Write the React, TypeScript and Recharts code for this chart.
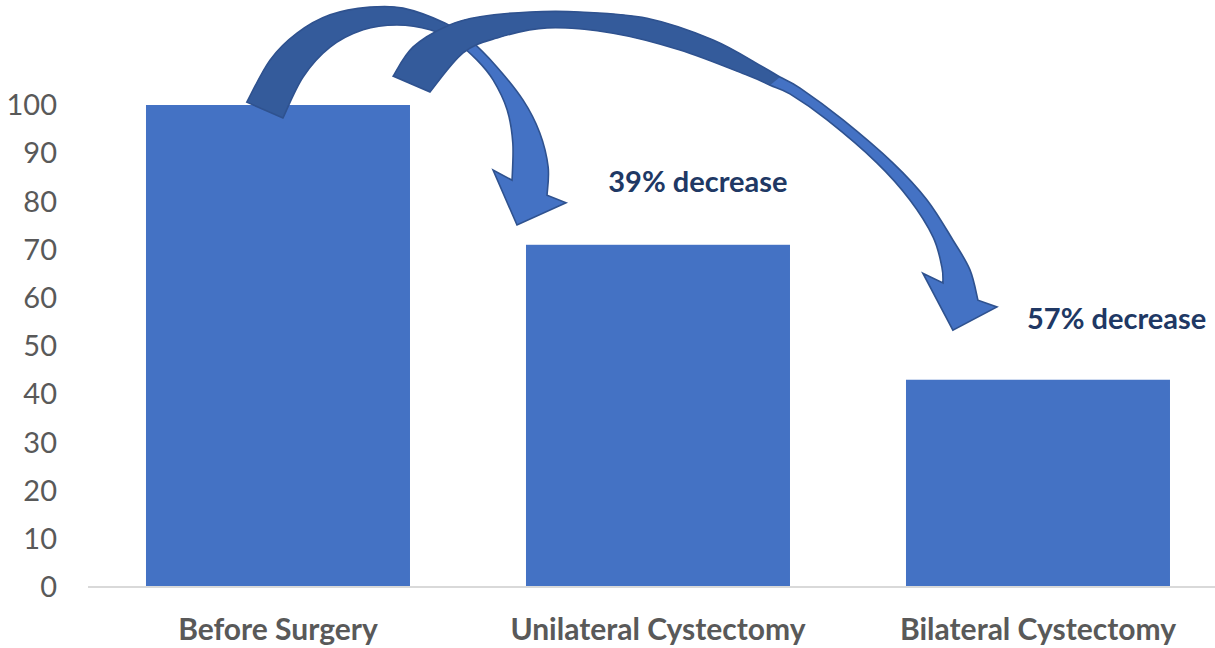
import React from 'react';
import { BarChart, Bar, XAxis, YAxis } from 'recharts';

// ---------- data ----------
const categories = ['Before Surgery', 'Unilateral Cystectomy', 'Bilateral Cystectomy'];
const values = [100, 71, 43];
const yTicks = [0, 10, 20, 30, 40, 50, 60, 70, 80, 90, 100];
const annotations = ['', '39% decrease', '57% decrease'];
// annotation anchors in data space: [category position, value]
const annotationAnchors: [number, number][] = [[0, 0], [1.105, 82], [2.207, 53.5]];

// curved arrows, in data space: [category position, value]
const arrow1Outer: [number, number][] = [
  [-0.082, 100.6], [-0.021, 109.3], [0.05, 114.9], [0.137, 118.7], [0.242, 120.3], [0.329, 120.1],
  [0.439, 117.0], [0.505, 113.5], [0.576, 107.9], [0.645, 101.0], [0.689, 94.2], [0.711, 87.1], [0.708, 81.3],
];
const arrow1Head: [number, number][] = [[0.758, 79.7], [0.629, 75.1], [0.566, 86.5]];
const arrow1Inner: [number, number][] = [
  [0.616, 84.4], [0.618, 92.1], [0.603, 99.0], [0.566, 105.2], [0.524, 109.3], [0.471, 112.9],
  [0.4, 115.6], [0.313, 116.6], [0.224, 115.6], [0.137, 112.0], [0.066, 105.8], [0.013, 97.3],
];
const arrow2Outer: [number, number][] = [
  [0.303, 106.0], [0.355, 112.0], [0.445, 116.4], [0.532, 118.3], [0.663, 119.3], [0.795, 119.3],
  [0.971, 118.0], [1.145, 113.5], [1.276, 107.9], [1.321, 105.8], [1.374, 103.5], [1.487, 96.9],
  [1.618, 88.0], [1.708, 80.3], [1.776, 72.0], [1.821, 65.8], [1.842, 59.5],
];
const arrow2Head: [number, number][] = [[1.892, 58.1], [1.776, 53.3], [1.697, 65.1]];
const arrow2Inner: [number, number][] = [
  [1.75, 63.1], [1.747, 66.4], [1.724, 72.6], [1.663, 80.3], [1.576, 88.0], [1.445, 96.9],
  [1.347, 102.3], [1.295, 104.1], [1.234, 106.2], [1.058, 111.4], [0.882, 114.9], [0.708, 116.0],
  [0.576, 113.9], [0.487, 110.8], [0.4, 102.7],
];

const arrows = [
  { outer: arrow1Outer, head: arrow1Head, inner: arrow1Inner, splitOuter: 6, splitInner: 5 },
  { outer: arrow2Outer, head: arrow2Head, inner: arrow2Inner, splitOuter: 9, splitInner: 7 },
];

const data = categories.map((name, i) => ({ name, value: values[i] }));

const BAR_COLOR = '#4472C4';
const ARROW_DARK = '#345B9B';
const ARROW_STROKE = '#2F528F';
const TEXT_NAVY = '#203864';
const GAP = 0.1526;

const geom: { c0: number } = { c0: NaN };

type Pt = [number, number];

function segs(p: Pt[], a: number, b: number): string {
  let d = '';
  for (let i = a; i < b; i++) {
    const p0 = p[Math.max(i - 1, 0)];
    const p1 = p[i];
    const p2 = p[i + 1];
    const p3 = p[Math.min(i + 2, p.length - 1)];
    const c1x = p1[0] + (p2[0] - p0[0]) / 6;
    const c1y = p1[1] + (p2[1] - p0[1]) / 6;
    const c2x = p2[0] - (p3[0] - p1[0]) / 6;
    const c2y = p2[1] - (p3[1] - p1[1]) / 6;
    d += ` C ${c1x} ${c1y} ${c2x} ${c2y} ${p2[0]} ${p2[1]}`;
  }
  return d;
}

const BarShape = (props: any) => {
  const { x, y, width, height, index } = props;
  const rect = <rect x={x} y={y} width={width} height={height} fill={BAR_COLOR} />;
  if (index === 0) geom.c0 = x + width / 2;
  if (index !== categories.length - 1) return rect;

  const cLast = x + width / 2;
  const last = categories.length - 1;
  const step = Number.isFinite(geom.c0) ? (cLast - geom.c0) / last : width / (1 - 2 * GAP);
  const baseline = y + height;
  const ppu = height / values[last];
  const P = (q: Pt): Pt => [cLast + (q[0] - last) * step, baseline - q[1] * ppu];

  return (
    <g>
      {rect}
      {arrows.map((a, k) => {
        const outer = a.outer.map(P);
        const inner = a.inner.map(P);
        const head = a.head.map(P);
        const full =
          `M ${outer[0][0]} ${outer[0][1]}` +
          segs(outer, 0, outer.length - 1) +
          head.map((h) => ` L ${h[0]} ${h[1]}`).join('') +
          ` L ${inner[0][0]} ${inner[0][1]}` +
          segs(inner, 0, inner.length - 1) +
          ' Z';
        const dark =
          `M ${outer[0][0]} ${outer[0][1]}` +
          segs(outer, 0, a.splitOuter) +
          ` L ${inner[a.splitInner][0]} ${inner[a.splitInner][1]}` +
          segs(inner, a.splitInner, inner.length - 1) +
          ' Z';
        return (
          <g key={k}>
            <path d={full} fill={BAR_COLOR} stroke="none" />
            <path d={dark} fill={ARROW_DARK} stroke="none" />
            <path d={full} fill="none" stroke={ARROW_STROKE} strokeWidth={1.6} strokeLinejoin="miter" />
          </g>
        );
      })}
      {annotations.map((t, i) => {
        if (!t) return null;
        const [ax, ay] = P(annotationAnchors[i]);
        return (
          <text
            key={i}
            x={ax}
            y={ay}
            textAnchor="middle"
            fill={TEXT_NAVY}
            fontFamily="Lato, sans-serif"
            fontWeight={700}
            fontSize={29}
          >
            {t}
          </text>
        );
      })}
    </g>
  );
};

export default function App() {
  return (
    <div
      style={{
        position: 'absolute',
        left: 0,
        top: 0,
        width: 1215,
        height: 648,
        overflow: 'hidden',
        background: '#fff',
      }}
    >
      <BarChart
        width={1228}
        height={648}
        data={data}
        margin={{ top: 105, right: 0, bottom: 0, left: 0 }}
        barCategoryGap={`${GAP * 100}%`}
        style={{ fontFamily: 'Lato, sans-serif' }}
      >
        <XAxis
          dataKey="name"
          height={61}
          interval={0}
          tickLine={false}
          tickSize={0}
          tickMargin={32}
          axisLine={{ stroke: '#D9D9D9', strokeWidth: 2 }}
          tick={{ fill: '#595959', fontSize: 30, fontWeight: 700, fontFamily: 'Lato, sans-serif' }}
        />
        <YAxis
          width={88}
          domain={[0, 100]}
          ticks={yTicks}
          interval={0}
          axisLine={false}
          tickLine={false}
          tickSize={0}
          tickMargin={31}
          tick={{ fill: '#595959', fontSize: 29, fontFamily: 'Lato, sans-serif' }}
        />
        <Bar dataKey="value" isAnimationActive={false} shape={BarShape} />
      </BarChart>
    </div>
  );
}
